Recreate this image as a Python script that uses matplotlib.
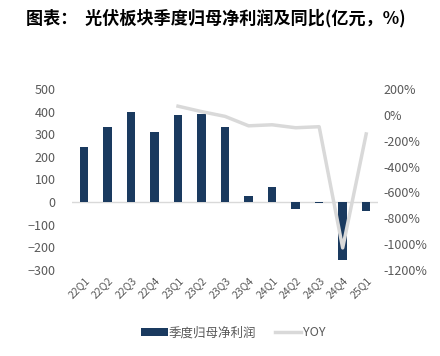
import matplotlib
matplotlib.use("Agg")
import matplotlib.pyplot as plt
from matplotlib.ticker import FuncFormatter

plt.rcParams['font.family'] = ['Noto Sans CJK SC', 'DejaVu Sans']

quarters = ["22Q1", "22Q2", "22Q3", "22Q4", "23Q1", "23Q2", "23Q3",
            "23Q4", "24Q1", "24Q2", "24Q3", "24Q4", "25Q1"]
profit = [243, 333, 399, 310, 386, 391, 330, 28, 65, -30, -6, -257, -40]
yoy_quarters = quarters[4:]
yoy = [67, 25, -12, -85, -77, -100, -92, -1030, -148]

bar_color = "#1a3a5f"
line_color = "#d9d9d9"
text_color = "#595959"

fig = plt.figure(figsize=(4.4, 3.56), dpi=100)
ax = fig.add_axes([0.164, 0.242, 0.695, 0.508])
x = list(range(len(quarters)))
ax.bar(x, profit, width=0.36, color=bar_color, label="季度归母净利润", zorder=3)
ax.axhline(0, color="#d9d9d9", lw=1, zorder=2)
ax.set_ylim(-300, 500)
ax.set_yticks(range(-300, 501, 100))
ax.set_xlim(-0.5, len(quarters) - 0.5)
ax.set_xticks(x)
ax.set_xticklabels(quarters, rotation=45, ha="right", rotation_mode="anchor",
                   fontsize=7.5, color=text_color)
ax.tick_params(axis="y", labelsize=9, labelcolor=text_color, length=0, pad=12)
ax.tick_params(axis="x", length=0, pad=4)
for s in ax.spines.values():
    s.set_visible(False)

ax2 = ax.twinx()
yx = [quarters.index(q) for q in yoy_quarters]
ax2.plot(yx, yoy, color=line_color, lw=2.5, label="YOY", zorder=4)
ax2.set_ylim(-1200, 200)
ax2.set_yticks(range(-1200, 201, 200))
ax2.yaxis.set_major_formatter(FuncFormatter(lambda v, p: f"{int(v)}%"))
ax2.tick_params(axis="y", labelsize=9, labelcolor=text_color, length=0, pad=4)
for s in ax2.spines.values():
    s.set_visible(False)

h1, l1 = ax.get_legend_handles_labels()
h2, l2 = ax2.get_legend_handles_labels()
fig.legend(h1 + h2, l1 + l2, loc="center", bbox_to_anchor=(0.53, 0.065),
           ncol=2, frameon=False, fontsize=9, labelcolor=text_color,
           handlelength=2.1, handleheight=0.6, columnspacing=1.5, handletextpad=0.1)

fig.text(0.06, 0.948, "图表：  光伏板块季度归母净利润及同比(亿元，%)",
         fontsize=12.3, fontweight="bold", color="#000000", va="center")

fig.savefig("out.png", dpi=100)
